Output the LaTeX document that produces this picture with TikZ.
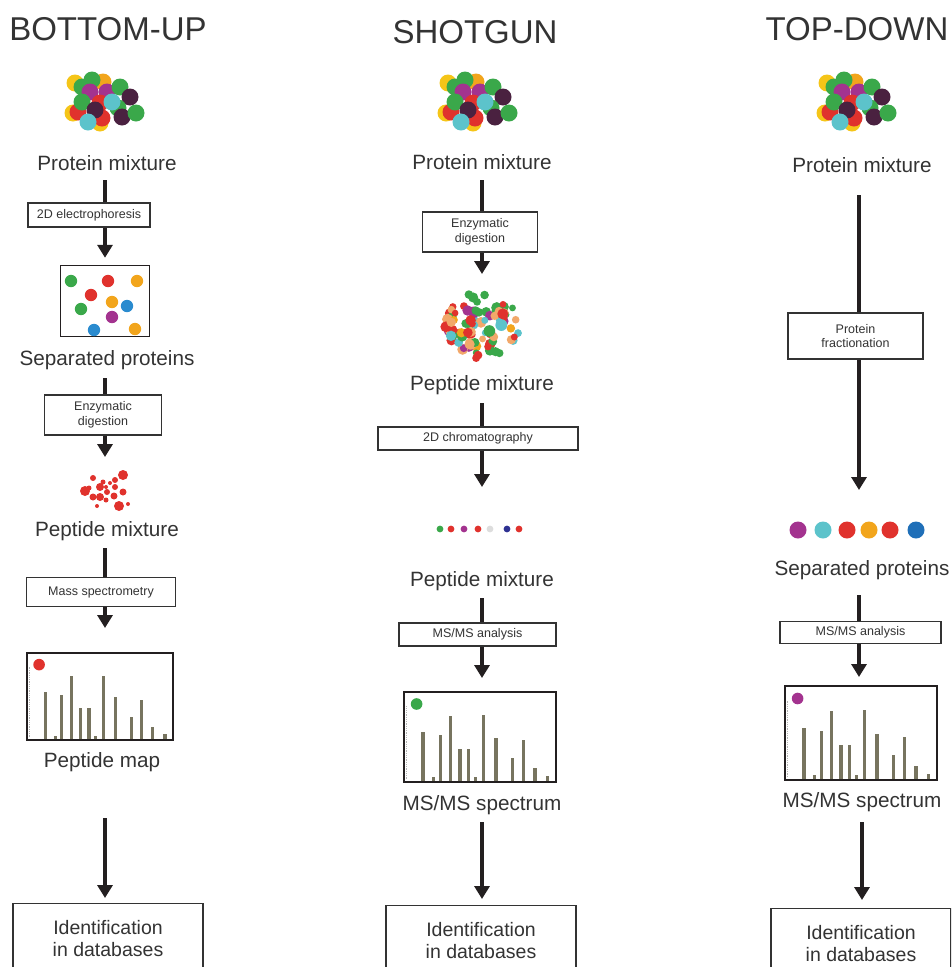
\documentclass[tikz,border=0pt]{standalone}
\usepackage{fontspec}
\setmainfont{Liberation Sans}
\usetikzlibrary{arrows.meta}
\definecolor{txt}{HTML}{333333}
\definecolor{boxc}{HTML}{333333}
\definecolor{arrc}{HTML}{231F20}
\definecolor{barc}{HTML}{77745F}
\definecolor{kg}{HTML}{3AA84A}
\definecolor{ky}{HTML}{F5C518}
\definecolor{ko}{HTML}{F2A51C}
\definecolor{km}{HTML}{A3338F}
\definecolor{kd}{HTML}{4A2140}
\definecolor{kt}{HTML}{5CC3CB}
\definecolor{kr}{HTML}{E0322D}
\definecolor{kb}{HTML}{2A8BCF}
\definecolor{kn}{HTML}{2E3192}
\definecolor{kl}{HTML}{DDDDDD}
\definecolor{kp}{HTML}{F2A86A}
\definecolor{kblue}{HTML}{1F6FB8}
% colours for the random cloud
\colorlet{kc0}{kg}\colorlet{kc1}{kr}\colorlet{kc2}{ko}\colorlet{kc3}{km}
\colorlet{kc4}{kt}\colorlet{kc5}{kg}\colorlet{kc6}{kr}\colorlet{kc7}{kp}

\newcommand\protcluster[2]{%
  \begin{scope}[shift={(#1,#2)}]
    \foreach \px/\py/\pc in {-30/-17/ky,-2/-18/ko,-32/13/ky,-5/23/ky,
      -13/-20/kg,-23/-13/kg,-15/-8/km,2/-8/km,15/-13/kg,25/-3/kd,
      -27/12/kr,-5/3/kr,-3/18/kr,-23/2/kg,-10/10/kd,13/8/kg,17/17/kd,
      31/13/kg,7/2/kt,-17/22/kt}
      \fill[fill=\pc] (\px,\py) circle[radius=8.5];
  \end{scope}}

\newcommand\specbox[6]{% name, cx, cy, w, h, dot colour
  \node[specframe, minimum width=#4pt, minimum height=#5pt] (#1) at (#2,#3) {};
  \begin{scope}[shift={(#1.south west)}, x=#4pt, y=#5pt]
    \draw[gray!60, densely dotted, line width=0.8pt] (0.02,0.04) -- (0.02,0.85);
    \foreach \fx/\fh in {0.13/0.56,0.20/0.06,0.243/0.53,0.31/0.74,0.373/0.38,
      0.43/0.38,0.477/0.06,0.528/0.75,0.61/0.50,0.72/0.27,0.79/0.47,
      0.867/0.16,0.95/0.075}
      \draw[barc, line width=3.2pt] (\fx,0) -- (\fx,\fh);
    \fill[fill=#6] (0.088,0.875) circle[radius=5.8pt];
  \end{scope}
  \node[specframe, minimum width=#4pt, minimum height=#5pt] at (#2,#3) {};}

\begin{document}
\begin{tikzpicture}[x=1pt,y=-1pt,
  title/.style={font=\fontsize{33}{38}\selectfont, text=txt, inner sep=0},
  lbl/.style={font=\fontsize{20.7}{24}\selectfont, text=txt, inner sep=0},
  stepbox/.style={draw=boxc, line width=1.1pt, fill=white,
    font=\fontsize{12.5}{14.5}\selectfont, text=txt, align=center, inner sep=0},
  idbox/.style={draw=boxc, line width=1.2pt, fill=white,
    font=\fontsize{19.5}{22}\selectfont, text=txt, align=center, inner sep=0,
    minimum height=70pt, anchor=north},
  specframe/.style={draw=arrc, line width=1.5pt, inner sep=0},
  gelframe/.style={draw=arrc, line width=1.5pt, inner sep=0},
  ln/.style={draw=arrc, line width=3.6pt},
  arr/.style={ln, -{Triangle[width=15pt,length=13pt]}}]
\useasboundingbox (0,0) rectangle (951,967);
\clip (0,0) rectangle (951,967);

% ---------------- titles
\node[title] (T1) at (108,29) {BOTTOM-UP};
\node[title] (T2) at (475,32) {SHOTGUN};
\node[title] (T3) at (857,29) {TOP-DOWN};

% ---------------- BOTTOM-UP
\protcluster{105}{100}
\node[lbl] (L1a) at (107,163) {Protein mixture};
\node[stepbox, minimum width=122pt, minimum height=24pt] (B1a) at (89,215) {2D electrophoresis};
\node[gelframe, minimum width=89pt, minimum height=71pt] (G1) at (105,301) {};
\foreach \px/\py/\pc in {71/281/kg,108/281/kr,137/281/ko,91/295/kr,112/302/ko,
  81/309/kg,127/306/kb,112/317/km,94/330/kb,135/329/ko}
  \fill[fill=\pc] (\px,\py) circle[radius=6.2];
\node[lbl] (L1b) at (107,360) {Separated proteins};
\node[stepbox, minimum width=117pt, minimum height=40pt] (B1b) at (103,415) {Enzymatic\\digestion};
\foreach \px/\py/\pr in {93/478/3,85/491/5,123/475/5,115/480/3,100/487/4,107/492/3,
  115/487/3,93/497/3.5,100/497/4,114/496/3.5,123/492/3.5,119/506/5,106/500/2.5,
  97/506/2,106/487/2,128/504/2,103/482/2.5,89/488/2.5,110/483/2}
  \fill[fill=kr] (\px,\py) circle[radius=\pr];
\node[lbl] (L1c) at (107,531) {Peptide mixture};
\node[stepbox, minimum width=149pt, minimum height=29pt] (B1c) at (101,592) {Mass spectrometry};
\specbox{S1}{100}{696.5}{146}{87}{kr}
\node[lbl] (L1d) at (102,762) {Peptide map};
\node[idbox, minimum width=190pt] (I1) at (108,903) {Identification\\in databases};

\coordinate (s1a) at (105,180);
\draw[ln] (s1a) -- (s1a |- B1a.north);
\draw[arr, shorten >=7pt] (B1a.south -| s1a) -- (G1.north);
\coordinate (s1b) at (105,378);
\draw[ln] (s1b) -- (s1b |- B1b.north);
\coordinate (t1b) at (105,457);
\draw[arr] (B1b.south -| s1b) -- (t1b);
\coordinate (s1c) at (105,548);
\draw[ln] (s1c) -- (s1c |- B1c.north);
\coordinate (t1c) at (105,628);
\draw[arr] (B1c.south -| s1c) -- (t1c);
\coordinate (s1d) at (105,818);
\draw[arr, shorten >=5pt] (s1d) -- (s1d |- I1.north);

% ---------------- SHOTGUN
\protcluster{478}{100}
\node[lbl] (L2a) at (482,162) {Protein mixture};
\node[stepbox, minimum width=115pt, minimum height=40pt] (B2a) at (480,232) {Enzymatic\\digestion};
\pgfmathsetseed{5}
\foreach \i in {1,...,85}{
  \pgfmathsetmacro\ra{sqrt(rnd)}
  \pgfmathsetmacro\th{360*rnd}
  \pgfmathsetmacro\rr{3.2+2.8*rnd}
  \pgfmathtruncatemacro\ci{min(7,int(8*rnd))}
  \fill[fill=kc\ci] ({483+38*\ra*cos(\th)},{326+34*\ra*sin(\th)}) circle[radius=\rr];
}
\node[lbl] (L2b) at (482,385) {Peptide mixture};
\node[stepbox, minimum width=200pt, minimum height=23pt] (B2b) at (478,438.5) {2D chromatography};
\foreach \px/\pc in {440/kg,451/kr,464/km,478/kr,490/kl,507/kn,519/kr}
  \fill[fill=\pc] (\px,529) circle[radius=3.4];
\node[lbl] (L2c) at (482,581) {Peptide mixture};
\node[stepbox, minimum width=157pt, minimum height=23pt] (B2c) at (477.5,634.5) {MS/MS analysis};
\specbox{S2}{480}{737}{152}{90}{kg}
\node[lbl] (L2d) at (482,805) {MS/MS spectrum};
\node[idbox, minimum width=190pt] (I2) at (481,905) {Identification\\in databases};

\coordinate (s2a) at (482,180);
\draw[ln] (s2a) -- (s2a |- B2a.north);
\coordinate (t2a) at (482,274);
\draw[arr] (B2a.south -| s2a) -- (t2a);
\coordinate (s2b) at (482,403);
\draw[ln] (s2b) -- (s2b |- B2b.north);
\coordinate (t2b) at (482,487);
\draw[arr] (B2b.south -| s2b) -- (t2b);
\coordinate (s2c) at (482,598);
\draw[ln] (s2c) -- (s2c |- B2c.north);
\coordinate (t2c) at (482,678);
\draw[arr] (B2c.south -| s2c) -- (t2c);
\coordinate (s2d) at (482,822);
\draw[arr, shorten >=6pt] (s2d) -- (s2d |- I2.north);

% ---------------- TOP-DOWN
\protcluster{857}{100}
\node[lbl] (L3a) at (862,165) {Protein mixture};
\node[stepbox, minimum width=135pt, minimum height=46pt] (B3a) at (855.5,336) {Protein\\fractionation};
\foreach \px/\pc in {798/km,823/kt,847/kr,869/ko,890/kr,916/kblue}
  \fill[fill=\pc] (\px,530) circle[radius=8.5];
\node[lbl] (L3b) at (862,570) {Separated proteins};
\node[stepbox, minimum width=161pt, minimum height=22pt] (B3b) at (860.5,632.5) {MS/MS analysis};
\specbox{S3}{861}{733}{152}{94}{km}
\node[lbl] (L3c) at (862,802) {MS/MS spectrum};
\node[idbox, minimum width=180pt] (I3) at (861,908) {Identification\\in databases};

\coordinate (s3a) at (859,195);
\draw[ln] (s3a) -- (s3a |- B3a.north);
\coordinate (t3a) at (859,490);
\draw[arr] (B3a.south -| s3a) -- (t3a);
\coordinate (s3b) at (859,595);
\draw[ln] (s3b) -- (s3b |- B3b.north);
\coordinate (t3b) at (859,677);
\draw[arr] (B3b.south -| s3b) -- (t3b);
\coordinate (s3c) at (862,822);
\draw[arr, shorten >=8pt] (s3c) -- (s3c |- I3.north);
\end{tikzpicture}
\end{document}
